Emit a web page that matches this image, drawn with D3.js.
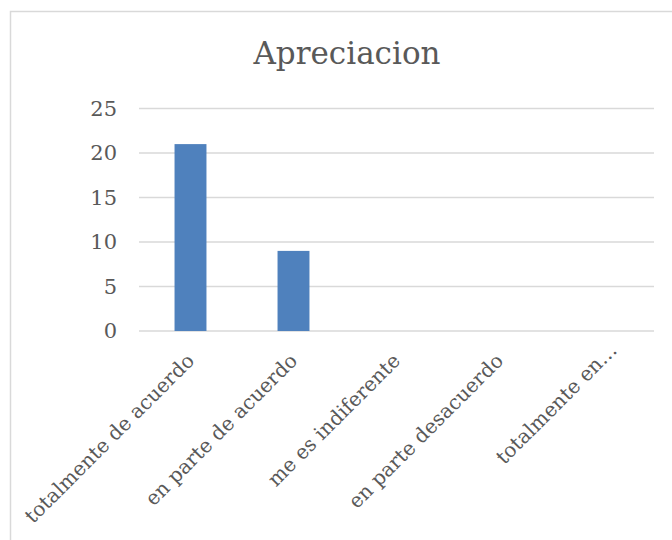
<!DOCTYPE html>
<html><head><meta charset="utf-8">
<script src="https://cdn.jsdelivr.net/npm/d3@7"></script>
<style>body{margin:0;background:#fff;} svg{display:block;}</style>
</head><body>
<script>
const title = "Apreciacion";
const categories = ["totalmente de acuerdo","en parte de acuerdo","me es indiferente","en parte desacuerdo","totalmente en desacuerdo"];
const tickLabels = ["totalmente de acuerdo","en parte de acuerdo","me es indiferente","en parte desacuerdo","totalmente en…"];
const values = [21, 9, 0, 0, 0];
const yTicks = [0, 5, 10, 15, 20, 25];

(function(){
const W = 672, H = 540;
const svg = d3.select("body").append("svg").attr("width", W).attr("height", H);
const font = "'DejaVu Serif', serif";

svg.append("rect").attr("x", 10.5).attr("y", 11.5).attr("width", 700).attr("height", 600)
  .attr("fill", "#fff").attr("stroke", "#D9D9D9").attr("stroke-width", 1.5);

const pl = 139, pr = 654, pt = 108.5, pb = 331;
const x = d3.scaleBand().domain(categories).range([pl, pr]).paddingInner(0.69).paddingOuter(0.345);
const y = d3.scaleLinear().domain([0, 25]).range([pb, pt]);

svg.append("g").selectAll("line").data(yTicks).join("line")
  .attr("x1", pl).attr("x2", pr)
  .attr("y1", d => y(d)).attr("y2", d => y(d))
  .attr("stroke", "#D9D9D9").attr("stroke-width", 1.5);

const yAxis = d3.axisLeft(y).tickValues(yTicks).tickSize(0).tickPadding(22);
const gy = svg.append("g").attr("transform", `translate(${pl},0)`).call(yAxis);
gy.select(".domain").remove();
gy.selectAll("text").attr("font-family", font).attr("font-size", 21).attr("fill", "#595959");

svg.append("g").selectAll("rect").data(values).join("rect")
  .attr("x", (d, i) => x(categories[i]))
  .attr("width", x.bandwidth())
  .attr("y", d => y(d))
  .attr("height", d => y(0) - y(d))
  .attr("fill", "#4F81BD");

const xAxis = d3.axisBottom(x).tickSize(0).tickFormat((d, i) => tickLabels[i]);
const gx = svg.append("g").attr("transform", `translate(0,${pb})`).call(xAxis);
gx.select(".domain").remove();
gx.selectAll("text")
  .attr("font-family", font).attr("font-size", 20).attr("fill", "#595959")
  .attr("text-anchor", "end")
  .attr("transform", "translate(0,26) rotate(-45)")
  .attr("x", function() { return this.textContent.endsWith("…") ? 15 : 0; })
  .attr("y", 0).attr("dy", "0.35em");

svg.append("text").attr("x", 347).attr("y", 64).attr("text-anchor", "middle")
  .attr("font-family", font).attr("font-size", 31).attr("fill", "#595959").text(title);
})();
</script>
</body></html>
